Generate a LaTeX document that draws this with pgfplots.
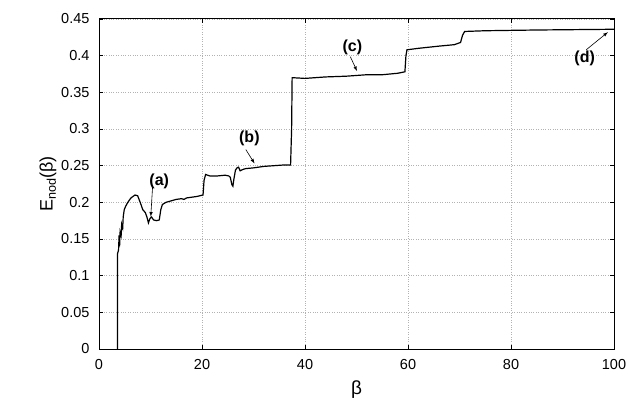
\documentclass[border=0pt]{standalone}
\usepackage{fontspec}
\setmainfont{Liberation Sans}
\usepackage{pgfplots}
\pgfplotsset{compat=1.18}
\begin{document}
\begin{tikzpicture}[x=1pt,y=1pt]
\path[use as bounding box] (0,0) rectangle (628,404);
\begin{axis}[
  at={(99pt,55pt)}, anchor=south west,
  scale only axis, width=515pt, height=330pt,
  xmin=0, xmax=100, ymin=0, ymax=0.45,
  xtick={0,20,...,100},
  ytick={0,0.05,0.1,0.15,0.2,0.25,0.3,0.35,0.4,0.45},
  /pgf/number format/assume math mode=true,
  yticklabel style={/pgf/number format/fixed,/pgf/number format/precision=2, xshift=-6pt},
  xticklabel style={yshift=-7pt},
  ticklabel style={font=\fontsize{14.5}{16}\selectfont},
  tick align=inside, tick pos=both, major tick length=4pt,
  tick style={black, line width=0.6pt},
  grid=major,
  grid style={gray!60, dotted, line width=0.5pt},
  axis line style={line width=1pt},
  xlabel={β}, ylabel={E\textsubscript{nod}(β)},
  xlabel style={font=\fontsize{19}{21}\selectfont, yshift=-4pt},
  ylabel style={font=\fontsize{18}{20}\selectfont, yshift=-2pt},
]
\addplot[black, line width=1.2pt] coordinates {
(3.6,0) (3.6,0.13) (3.8,0.135) (3.9,0.155) (4.0,0.14) (4.1,0.16) (4.3,0.155) (4.4,0.17) (4.6,0.165) (4.7,0.18) (4.9,0.19) (5.2,0.195) (5.6,0.2) (6.2,0.206) (7,0.21) (7.5,0.209) (8,0.2) (8.5,0.19) (9,0.186) (9.3,0.18) (9.6,0.172) (9.9,0.178) (10.2,0.18) (10.6,0.176) (11.2,0.175) (11.7,0.176) (12.0,0.19) (12.3,0.197) (13,0.2) (14,0.202) (15,0.204) (16,0.205) (16.5,0.204) (17,0.206) (18,0.207) (19,0.208) (20.2,0.21) (20.4,0.23) (20.7,0.238) (21.5,0.236) (23,0.236) (24.5,0.237) (25.2,0.236) (25.5,0.234) (25.8,0.224) (26.0,0.222) (26.2,0.232) (26.5,0.244) (26.8,0.247) (27.1,0.248) (27.4,0.243) (28,0.245) (28.5,0.246) (30,0.247) (32,0.249) (34,0.25) (36,0.251) (37.2,0.251) (37.4,0.3) (37.5,0.37) (40,0.369) (44,0.371) (48,0.372) (52,0.374) (55,0.374) (58,0.376) (59.4,0.378) (59.6,0.4) (59.8,0.408) (62,0.41) (66,0.413) (69,0.415) (70.2,0.418) (70.6,0.428) (71,0.433) (75,0.434) (85,0.435) (100,0.436)
};
\begin{scope}[font=\fontsize{16}{18}\selectfont\bfseries]
\node at (axis cs:11.7,0.229) {(a)};
\draw[-latex, line width=0.6pt] (axis cs:10.4,0.2206) -- (axis cs:10.05,0.1805);
\node at (axis cs:29.2,0.287) {(b)};
\draw[-latex, line width=0.6pt] (axis cs:28.5,0.272) -- (axis cs:30.2,0.253);
\node at (axis cs:49.2,0.412) {(c)};
\draw[-latex, line width=0.6pt] (axis cs:48.8,0.3986) -- (axis cs:50.1,0.379);
\node at (axis cs:94.3,0.3964) {(d)};
\draw[-latex, line width=0.6pt] (axis cs:94.6,0.408) -- (axis cs:98.8,0.432);
\end{scope}
\end{axis}
\end{tikzpicture}
\end{document}
